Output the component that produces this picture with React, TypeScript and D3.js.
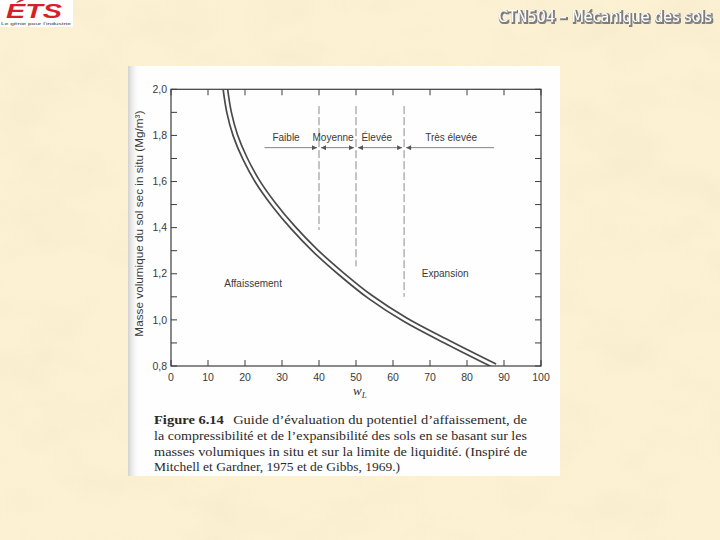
import React from 'react';
import * as d3 from 'd3';

// ---- data ----
// centre line of the double-line boundary curve: in-situ dry density (Mg/m3) vs liquid limit wL (%)
const curveRho = [2.0, 1.9, 1.8, 1.7, 1.6, 1.5, 1.4, 1.3, 1.2, 1.1, 1.0, 0.9, 0.8];
const curveWL = [14.7, 15.7, 17.4, 20.0, 23.4, 27.8, 33.0, 39.0, 46.0, 53.8, 63.4, 75.2, 87.6];

const xTickValues = [0, 10, 20, 30, 40, 50, 60, 70, 80, 90, 100];
const yLabelValues = [0.8, 1.0, 1.2, 1.4, 1.6, 1.8, 2.0];
const yTickValues = [0.8, 0.9, 1.0, 1.1, 1.2, 1.3, 1.4, 1.5, 1.6, 1.7, 1.8, 1.9, 2.0];

const boundaryWL = [40, 50, 63];
const boundaryTopRho = 1.927;
const boundaryBottomRho = [1.39, 1.232, 1.1];

const classEdges = [25.3, 40, 50, 63, 87.3];
const classNames = ['Faible', 'Moyenne', 'Élevée', 'Très élevée'];
const classLabelWL = [31.1, 43.8, 55.6, 75.7];
const classArrowRho = 1.747;
const classLabelRho = 1.775;

const zoneNames = ['Affaissement', 'Expansion'];
const zoneWL = [22.2, 74.1];
const zoneRho = [1.156, 1.2];

const captionBold = 'Figure 6.14';
const captionLines = [
  'Guide d’évaluation du potentiel d’affaissement, de',
  'la compressibilité et de l’expansibilité des sols en se basant sur les',
  'masses volumiques in situ et sur la limite de liquidité. (Inspiré de',
  'Mitchell et Gardner, 1975 et de Gibbs, 1969.)',
];

const slideTitle = 'CTN504 – Mécanique des sols';

export default function App() {
  const x = d3.scaleLinear().domain([0, 100]).range([171, 541]);
  const y = d3.scaleLinear().domain([0.8, 2.0]).range([366, 89.3]);
  const fmt = d3.formatLocale({ decimal: ',', thousands: ' ', grouping: [3], currency: ['', ''] }).format('.1f');

  const pts: [number, number][] = curveWL.map((w, i) => [w, curveRho[i]]);
  const line = d3
    .line<[number, number]>()
    .x((d) => x(d[0]))
    .y((d) => y(d[1]))
    .curve(d3.curveCatmullRom.alpha(0.5));
  const curvePath = line(pts) || '';

  const axisColor = '#3c3c3c';
  const textColor = '#3a3a3a';
  const sans = '"Liberation Sans", Arial, sans-serif';
  const serif = '"Liberation Serif", "DejaVu Serif", serif';
  const [x0, x1] = x.range();
  const [y0, y1] = y.range(); // y0 bottom, y1 top
  const tickLen = 6;

  const arrowY = y(classArrowRho);

  return (
    <svg
      width={720}
      height={540}
      viewBox="0 0 720 540"
      style={{ position: 'absolute', left: 0, top: 0, display: 'block' }}
    >
      <defs>
        <filter id="paper" x="0" y="0" width="100%" height="100%">
          <feTurbulence type="fractalNoise" baseFrequency="0.012 0.02" numOctaves="4" seed="7" />
          <feColorMatrix
            type="matrix"
            values="0 0 0 0 0.88  0 0 0 0 0.76  0 0 0 0 0.60  1.4 0 0 0 -0.58"
          />
        </filter>
        <filter id="titleShadow" filterUnits="userSpaceOnUse" x="440" y="0" width="280" height="36">
          <feMorphology in="SourceAlpha" operator="dilate" radius="0.8" result="thick" />
          <feOffset in="thick" dx="1" dy="1" result="off" />
          <feFlood floodColor="#7d7d7d" />
          <feComposite in2="off" operator="in" result="shadow" />
          <feMerge>
            <feMergeNode in="shadow" />
            <feMergeNode in="SourceGraphic" />
          </feMerge>
        </filter>
        <linearGradient id="scanEdge" x1="0" x2="1" y1="0" y2="0">
          <stop offset="0" stopColor="#c9c9c9" stopOpacity="0.85" />
          <stop offset="1" stopColor="#ffffff" stopOpacity="0" />
        </linearGradient>
        <clipPath id="plotClip">
          <rect x={x0} y={y1} width={x1 - x0} height={y0 - y1} />
        </clipPath>
        <marker
          id="arrow"
          viewBox="0 0 10 10"
          refX="10"
          refY="5"
          markerWidth="6"
          markerHeight="5"
          markerUnits="userSpaceOnUse"
          orient="auto-start-reverse"
        >
          <path d="M0,0 L10,5 L0,10 Z" fill="#555" />
        </marker>
      </defs>

      {/* slide background */}
      <rect x={0} y={0} width={720} height={540} fill="#fcf1d2" />
      <rect x={0} y={0} width={720} height={540} filter="url(#paper)" opacity={0.45} />

      {/* logo */}
      <rect x={0} y={0} width={73} height={27} fill="#ffffff" />
      <text
        x={6}
        y={18}
        fontFamily={sans}
        fontWeight="bold"
        fontStyle="italic"
        fontSize={21}
        fill="#d71f2b"
        textLength={56}
        lengthAdjust="spacingAndGlyphs"
      >
        ÉTS
      </text>
      <text x={1} y={25} fontFamily={sans} fontSize={4.3} fill="#333" textLength={70} lengthAdjust="spacingAndGlyphs">
        Le génie pour l’industrie
      </text>

      {/* slide title */}
      <text
        x={712}
        y={22}
        textAnchor="end"
        fontFamily='"DejaVu Sans", Verdana, sans-serif'
        fontSize={15}
        fill="#ffffff"
        textLength={214}
        lengthAdjust="spacingAndGlyphs"
        filter="url(#titleShadow)"
      >
        {slideTitle}
      </text>

      {/* scanned figure page */}
      <rect x={128} y={66} width={432} height={410} fill="#fefefe" />
      <rect x={128} y={66} width={12} height={410} fill="url(#scanEdge)" />

      {/* dashed class boundaries */}
      {boundaryWL.map((w, i) => (
        <line
          key={'b' + i}
          x1={x(w)}
          x2={x(w)}
          y1={y(boundaryTopRho)}
          y2={y(boundaryBottomRho[i])}
          stroke="#808080"
          strokeWidth={0.9}
          strokeDasharray="8,3"
        />
      ))}

      {/* class arrows */}
      {classNames.map((name, i) => {
        const a = x(classEdges[i]);
        const b = x(classEdges[i + 1]);
        const startArrow = i > 0;
        const endArrow = i < classNames.length - 1;
        return (
          <line
            key={'a' + i}
            x1={a + (startArrow ? 2 : 0)}
            x2={b - (endArrow ? 2 : 0)}
            y1={arrowY}
            y2={arrowY}
            stroke="#666"
            strokeWidth={0.8}
            markerStart={startArrow ? 'url(#arrow)' : undefined}
            markerEnd={endArrow ? 'url(#arrow)' : undefined}
          />
        );
      })}
      {classNames.map((name, i) => (
        <text
          key={'c' + i}
          x={x(classLabelWL[i])}
          y={y(classLabelRho)}
          textAnchor="middle"
          fontFamily={sans}
          fontSize={10}
          fill={textColor}
        >
          {name}
        </text>
      ))}

      {/* zone labels */}
      {zoneNames.map((name, i) => (
        <text
          key={'z' + i}
          x={x(zoneWL[i])}
          y={y(zoneRho[i])}
          dy="0.35em"
          textAnchor="middle"
          fontFamily={sans}
          fontSize={10}
          fill={textColor}
        >
          {name}
        </text>
      ))}

      {/* double-line curve */}
      <g clipPath="url(#plotClip)">
        <path d={curvePath} fill="none" stroke="#4a4a4a" strokeWidth={6.2} />
        <path d={curvePath} fill="none" stroke="#fefefe" strokeWidth={2.8} />
      </g>

      {/* frame */}
      <rect x={x0} y={y1} width={x1 - x0} height={y0 - y1} fill="none" stroke={axisColor} strokeWidth={1.2} />

      {/* x ticks (bottom and top, inward) */}
      {xTickValues.map((v) => (
        <g key={'xt' + v}>
          <line x1={x(v)} x2={x(v)} y1={y0} y2={y0 - tickLen} stroke={axisColor} strokeWidth={1} />
          <line x1={x(v)} x2={x(v)} y1={y1} y2={y1 + tickLen} stroke={axisColor} strokeWidth={1} />
          <text
            x={x(v)}
            y={y0 + 15}
            textAnchor="middle"
            fontFamily={sans}
            fontSize={10.5}
            fill={textColor}
          >
            {String(v)}
          </text>
        </g>
      ))}

      {/* y ticks (left and right, inward) */}
      {yTickValues.map((v) => (
        <g key={'yt' + v}>
          <line x1={x0} x2={x0 + tickLen} y1={y(v)} y2={y(v)} stroke={axisColor} strokeWidth={1} />
          <line x1={x1} x2={x1 - tickLen} y1={y(v)} y2={y(v)} stroke={axisColor} strokeWidth={1} />
        </g>
      ))}
      {yLabelValues.map((v) => (
        <text
          key={'yl' + v}
          x={x0 - 4}
          y={y(v)}
          dy="0.35em"
          textAnchor="end"
          fontFamily={sans}
          fontSize={10.5}
          fill={textColor}
        >
          {fmt(v)}
        </text>
      ))}

      {/* axis titles */}
      <text
        transform={`translate(143,${(y0 + y1) / 2 - 4}) rotate(-90)`}
        textAnchor="middle"
        fontFamily={sans}
        fontSize={11}
        fill={textColor}
        textLength={226}
        lengthAdjust="spacingAndGlyphs"
      >
        Masse volumique du sol sec in situ (Mg/m³)
      </text>
      <text x={(x0 + x1) / 2 - 3} y={395} fontFamily={serif} fontStyle="italic" fontSize={13} fill="#333">
        w<tspan fontSize={9} dy={3}>L</tspan>
      </text>

      {/* caption */}
      <text x={154} y={424} fontFamily={serif} fontSize={12.5} fill="#2a2a2a" textLength={373} lengthAdjust="spacingAndGlyphs">
        <tspan fontWeight="bold">{captionBold}</tspan>
        <tspan dx={8}>{captionLines[0]}</tspan>
      </text>
      <text x={154} y={440} fontFamily={serif} fontSize={12.5} fill="#2a2a2a" textLength={373} lengthAdjust="spacingAndGlyphs">
        {captionLines[1]}
      </text>
      <text x={154} y={456} fontFamily={serif} fontSize={12.5} fill="#2a2a2a" textLength={373} lengthAdjust="spacingAndGlyphs">
        {captionLines[2]}
      </text>
      <text x={154} y={471} fontFamily={serif} fontSize={12.5} fill="#2a2a2a" textLength={246} lengthAdjust="spacingAndGlyphs">
        {captionLines[3]}
      </text>
    </svg>
  );
}
